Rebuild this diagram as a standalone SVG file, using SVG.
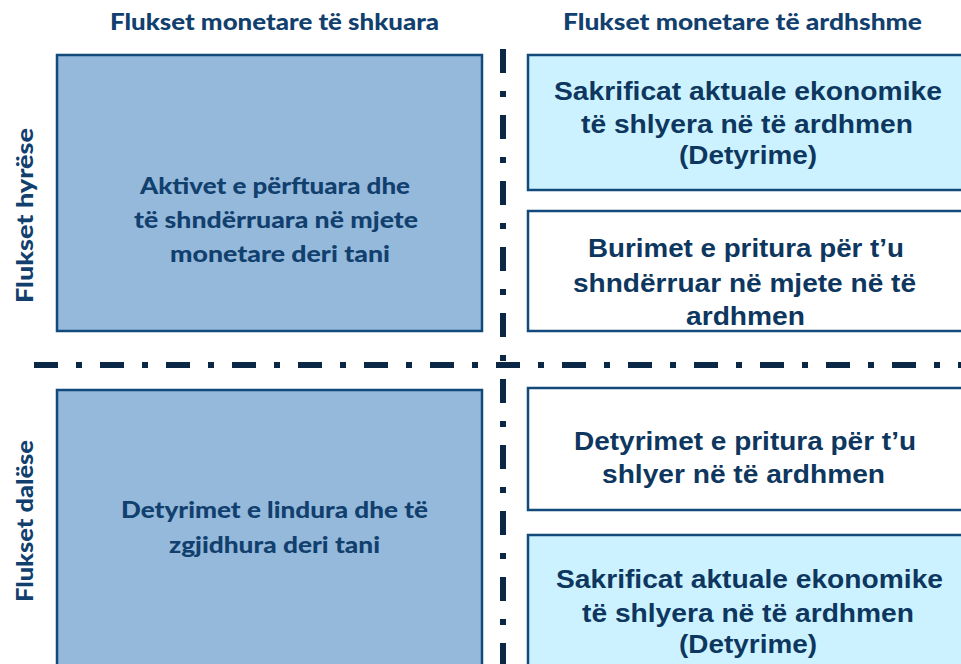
<svg xmlns="http://www.w3.org/2000/svg" width="961" height="664" viewBox="0 0 961 664">
<style>
.bg{fill:#ffffff}
.past{fill:#95B9DB;stroke:#134A7C;stroke-width:2.5}
.fut{fill:#CCF2FF;stroke:#134A7C;stroke-width:2.5}
.futw{fill:#ffffff;stroke:#134A7C;stroke-width:2.5}
.hdr{font-family:Lato,"Open Sans",sans-serif;font-weight:900;font-size:23px;fill:#11406E;text-anchor:middle}
.ptx{font-family:Lato,"Open Sans",sans-serif;font-weight:900;font-size:23px;fill:#11406E;text-anchor:middle}
.ftx{font-family:"Liberation Sans",Arial,sans-serif;font-weight:bold;font-size:26px;fill:#0E3760;text-anchor:middle}
.sep{stroke:#0A2846;stroke-width:6;fill:none;stroke-dasharray:24 18 6 18}
</style>
<rect class="bg" x="0" y="0" width="961" height="664"/>
<g id="headers">
<text class="hdr" x="274.5" y="30" textLength="329" lengthAdjust="spacingAndGlyphs">Flukset monetare të shkuara</text>
<text class="hdr" x="742.5" y="30" textLength="359" lengthAdjust="spacingAndGlyphs">Flukset monetare të ardhshme</text>
<text class="hdr" transform="translate(33,215.5) rotate(-90)" textLength="175" lengthAdjust="spacingAndGlyphs">Flukset hyrëse</text>
<text class="hdr" transform="translate(33,521) rotate(-90)" textLength="162" lengthAdjust="spacingAndGlyphs">Flukset dalëse</text>
</g>
<g id="connectors">
<line class="sep" x1="503" y1="49" x2="503" y2="664"/>
<line class="sep" x1="34" y1="365" x2="961" y2="365"/>
</g>
<g id="past-in">
<rect class="past" x="57" y="55" width="425" height="276"/>
<text class="ptx" x="275" y="194" textLength="270" lengthAdjust="spacingAndGlyphs">Aktivet e përftuara dhe</text>
<text class="ptx" x="276" y="228" textLength="284" lengthAdjust="spacingAndGlyphs">të shndërruara në mjete</text>
<text class="ptx" x="280" y="262" textLength="220" lengthAdjust="spacingAndGlyphs">monetare deri tani</text>
</g>
<g id="past-out">
<rect class="past" x="57" y="390" width="425" height="290"/>
<text class="ptx" x="274.5" y="518" textLength="307" lengthAdjust="spacingAndGlyphs">Detyrimet e lindura dhe të</text>
<text class="ptx" x="274.5" y="553" textLength="211" lengthAdjust="spacingAndGlyphs">zgjidhura deri tani</text>
</g>
<g id="future-in-1">
<rect class="fut" x="528" y="55" width="445" height="135"/>
<text class="ftx" x="748" y="100" textLength="388" lengthAdjust="spacingAndGlyphs">Sakrificat aktuale ekonomike</text>
<text class="ftx" x="747" y="133" textLength="332" lengthAdjust="spacingAndGlyphs">të shlyera në të ardhmen</text>
<text class="ftx" x="748" y="164" textLength="138" lengthAdjust="spacingAndGlyphs">(Detyrime)</text>
</g>
<g id="future-in-2">
<rect class="futw" x="528" y="211" width="445" height="120"/>
<text class="ftx" x="746" y="257" textLength="316" lengthAdjust="spacingAndGlyphs">Burimet e pritura për t’u</text>
<text class="ftx" x="744.5" y="292" textLength="343" lengthAdjust="spacingAndGlyphs">shndërruar në mjete në të</text>
<text class="ftx" x="745.5" y="325" textLength="119" lengthAdjust="spacingAndGlyphs">ardhmen</text>
</g>
<g id="future-out-1">
<rect class="futw" x="528" y="388" width="445" height="122"/>
<text class="ftx" x="745" y="450" textLength="342" lengthAdjust="spacingAndGlyphs">Detyrimet e pritura për t’u</text>
<text class="ftx" x="743.5" y="483" textLength="283" lengthAdjust="spacingAndGlyphs">shlyer në të ardhmen</text>
</g>
<g id="future-out-2">
<rect class="fut" x="528" y="535" width="445" height="150"/>
<text class="ftx" x="749.5" y="588" textLength="387" lengthAdjust="spacingAndGlyphs">Sakrificat aktuale ekonomike</text>
<text class="ftx" x="748" y="622" textLength="332" lengthAdjust="spacingAndGlyphs">të shlyera në të ardhmen</text>
<text class="ftx" x="748" y="653" textLength="138" lengthAdjust="spacingAndGlyphs">(Detyrime)</text>
</g>
</svg>
